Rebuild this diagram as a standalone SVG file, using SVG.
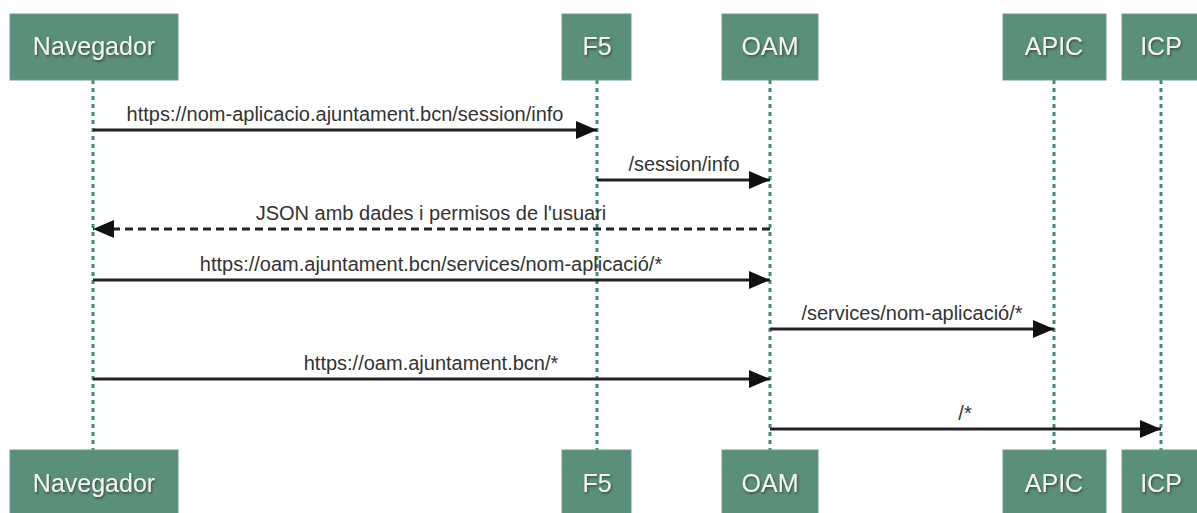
<svg xmlns="http://www.w3.org/2000/svg" width="1197" height="513" viewBox="0 0 1197 513">
<defs>
<style>
.box{fill:#5a8f7a;stroke:#6c9d89;stroke-width:1}
.bt{font-family:"Liberation Sans",Arial,sans-serif;font-size:25px;fill:#f4f4f4;text-anchor:middle;filter:url(#sh)}
.life{stroke:#3f8f76;stroke-width:3;stroke-dasharray:4,4;fill:none}
.msg{stroke:#222;stroke-width:2.8;fill:none;marker-end:url(#ah)}
.ret{stroke-dasharray:8,5}
.lbl{font-family:"Liberation Sans",Arial,sans-serif;font-size:20px;fill:#333;text-anchor:middle}
</style>
<filter id="sh" x="-20%" y="-30%" width="140%" height="160%">
<feDropShadow dx="1" dy="1.5" stdDeviation="0.8" flood-color="#2a3a33" flood-opacity="0.8"/>
</filter>
<marker id="ah" markerUnits="userSpaceOnUse" markerWidth="24" markerHeight="20" refX="21" refY="9" orient="auto">
<path d="M0,0 L21,9 L0,18 z" fill="#111"/>
</marker>
</defs>
<rect width="1197" height="513" fill="#ffffff"/>
<g id="lifelines">
<line class="life" x1="93" y1="80" x2="93" y2="450"/>
<line class="life" x1="597" y1="80" x2="597" y2="450"/>
<line class="life" x1="770" y1="80" x2="770" y2="450"/>
<line class="life" x1="1054" y1="80" x2="1054" y2="450"/>
<line class="life" x1="1161" y1="80" x2="1161" y2="450"/>
</g>
<g id="node-navegador">
<rect class="box" x="10" y="14" width="168" height="66"/>
<text class="bt" x="94" y="55">Navegador</text>
<rect class="box" x="10" y="450" width="168" height="66"/>
<text class="bt" x="94" y="492">Navegador</text>
</g>
<g id="node-f5">
<rect class="box" x="562" y="14" width="69" height="66"/>
<text class="bt" x="597" y="55">F5</text>
<rect class="box" x="562" y="450" width="69" height="66"/>
<text class="bt" x="597" y="492">F5</text>
</g>
<g id="node-oam">
<rect class="box" x="722" y="14" width="96" height="66"/>
<text class="bt" x="770" y="55">OAM</text>
<rect class="box" x="722" y="450" width="96" height="66"/>
<text class="bt" x="770" y="492">OAM</text>
</g>
<g id="node-apic">
<rect class="box" x="1003" y="14" width="103" height="66"/>
<text class="bt" x="1054" y="55">APIC</text>
<rect class="box" x="1003" y="450" width="103" height="66"/>
<text class="bt" x="1054" y="492">APIC</text>
</g>
<g id="node-icp">
<rect class="box" x="1122" y="14" width="80" height="66"/>
<text class="bt" x="1161" y="55">ICP</text>
<rect class="box" x="1122" y="450" width="80" height="66"/>
<text class="bt" x="1161" y="492">ICP</text>
</g>
<g id="connectors">
<line class="msg" x1="93" y1="130" x2="597" y2="130"/>
<text class="lbl" x="345" y="121">https://nom-aplicacio.ajuntament.bcn/session/info</text>
<line class="msg" x1="597" y1="180" x2="770" y2="180"/>
<text class="lbl" x="684" y="171">/session/info</text>
<line class="msg ret" x1="770" y1="229" x2="93" y2="229"/>
<text class="lbl" x="431" y="220">JSON amb dades i permisos de l'usuari</text>
<line class="msg" x1="93" y1="280" x2="770" y2="280"/>
<text class="lbl" x="431" y="271">https://oam.ajuntament.bcn/services/nom-aplicació/*</text>
<line class="msg" x1="770" y1="329" x2="1054" y2="329"/>
<text class="lbl" x="912" y="320">/services/nom-aplicació/*</text>
<line class="msg" x1="93" y1="379" x2="770" y2="379"/>
<text class="lbl" x="431" y="370">https://oam.ajuntament.bcn/*</text>
<line class="msg" x1="770" y1="429" x2="1161" y2="429"/>
<text class="lbl" x="965" y="420">/*</text>
</g>
</svg>
